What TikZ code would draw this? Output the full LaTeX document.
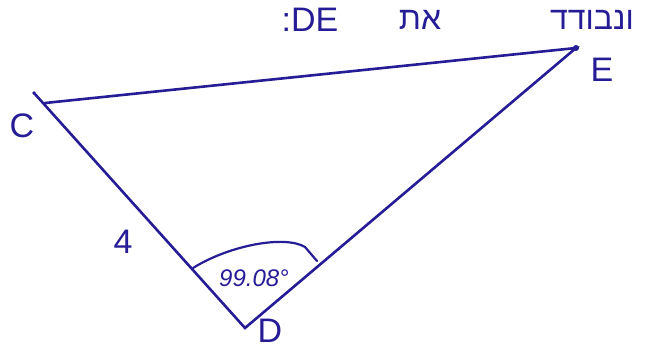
\documentclass[tikz,border=0pt]{standalone}
\usepackage{fontspec}
\setmainfont{Liberation Sans}
\newfontfamily\hebfont[Script=Hebrew]{Liberation Sans}
\TeXXeTstate=1
\definecolor{ink}{RGB}{38,28,150}
\begin{document}
\begin{tikzpicture}[x=1pt,y=-1pt,
  edge/.style={draw=ink,line width=2.6pt,line cap=round},
  vlabel/.style={text=ink,font=\fontsize{34}{36}\selectfont,inner sep=0pt},
  hebtext/.style={text=ink,font=\hebfont\fontsize{32}{34}\selectfont,inner sep=0pt},
  anglabel/.style={text=ink,font=\itshape\fontsize{24}{26}\selectfont,inner sep=0pt}]
\useasboundingbox[fill=white] (0,0) rectangle (659,352);
\coordinate (C) at (34,93);
\coordinate (D) at (245,328);
\coordinate (E) at (576,48);
\coordinate (Cs) at (45,103);
\draw[edge] (C) -- (D) -- (E) -- (Cs);
\fill[ink] (E) circle (3pt);
\fill[ink] (C) circle (1.8pt);
\node[vlabel] (lC) at (22,126) {C};
\node[vlabel] (lE) at (602,70) {E};
\node[vlabel] (lD) at (270,331) {D};
\node[vlabel] (l4) at (123,242) {4};
\draw[draw=ink,line width=2.2pt,line cap=round] (193,268) .. controls (230,245) and (285,235) .. (305,247) -- (317,261);
\node[anglabel] (ang) at (254,278) {99.08°};
\node[hebtext] (t1) at (592,20) {\beginR ונבודד\endR};
\node[hebtext] (t2) at (420,20) {\beginR את\endR};
\node[text=ink,font=\fontsize{34}{36}\selectfont,inner sep=0pt] (t3) at (310,20) {:DE};
\end{tikzpicture}
\end{document}
